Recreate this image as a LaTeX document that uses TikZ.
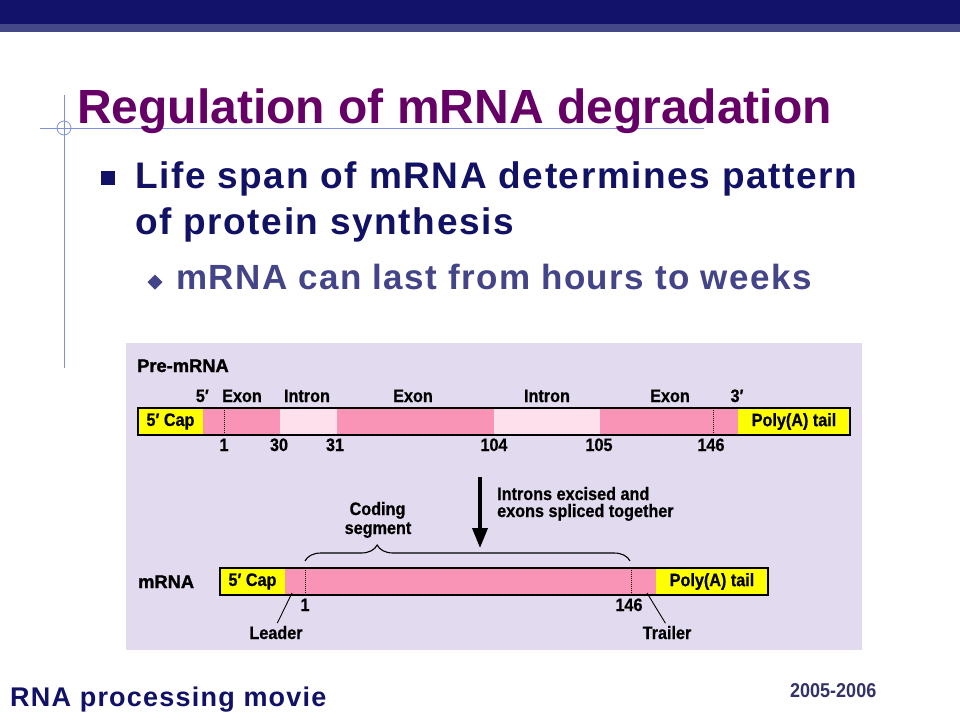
\documentclass[tikz,border=0pt]{standalone}
\usepackage{fontspec}
\setmainfont{Liberation Sans}
\newfontfamily\bodyfont[LetterSpace=4.3]{Liberation Sans}
\newfontfamily\subfont[LetterSpace=4.0]{Liberation Sans}
\newfontfamily\footfont[LetterSpace=4.5]{Liberation Sans}
\newfontfamily\figfont[FakeStretch=0.9,FakeBold=0.6]{Liberation Sans}
\newfontfamily\heavyfont[FakeBold=1.6]{Liberation Sans}
\newfontfamily\yearfont[FakeStretch=0.9]{Liberation Sans}
\usetikzlibrary{arrows.meta,decorations.pathreplacing,positioning}
\definecolor{topband}{HTML}{12126A}
\definecolor{midband}{HTML}{444888}
\definecolor{guide}{HTML}{7F8FE0}
\definecolor{titlecol}{HTML}{660066}
\definecolor{bodycol}{HTML}{111166}
\definecolor{subcol}{HTML}{444488}
\definecolor{yearcol}{HTML}{333366}
\definecolor{panel}{HTML}{E2DAEE}
\definecolor{capyel}{HTML}{FFFF00}
\definecolor{exon}{HTML}{F994B6}
\definecolor{intron}{HTML}{FDE0EC}
\tikzset{
  lbl/.style={inner sep=0pt, font=\figfont\bfseries\fontsize{18}{19}\selectfont},
  heavy/.style={inner sep=0pt, font=\heavyfont\bfseries\fontsize{18.3}{19}\selectfont},
  bar/.style={draw=black, line width=1.3pt},
  cut/.style={densely dotted, line width=1pt},
  guideline/.style={draw=guide, line width=0.8pt},
  bigarrow/.style={line width=3.6pt, -{Triangle[length=20pt,width=15pt]}}
}
\begin{document}
\begin{tikzpicture}[x=1pt,y=-1pt]
  \useasboundingbox (0,0) rectangle (960,720);
  \fill[white] (0,0) rectangle (960,720);

  % slide frame
  \fill[topband] (0,0) rectangle (960,24);
  \fill[midband] (0,24) rectangle (960,32);
  \draw[guideline] (64,95) -- (64,368);
  \draw[guideline] (40,128) -- (704,128);
  \draw[guideline] (64,128) circle (7);

  \node[anchor=base west, inner sep=0pt, text=titlecol,
    font=\bfseries\fontsize{48}{50}\selectfont] (title) at (77,123)
    {Regulation of mRNA degradation};

  \fill[bodycol] (101,171) rectangle (115,185);
  \node[anchor=base west, inner sep=0pt, text=bodycol,
    font=\bodyfont\bfseries\fontsize{37}{40}\selectfont] (life1) at (135,188)
    {Life span of mRNA determines pattern};
  \node[anchor=base west, inner sep=0pt, text=bodycol,
    font=\bodyfont\bfseries\fontsize{37}{40}\selectfont] (life2) at (135,234)
    {of protein synthesis};

  \fill[subcol] (155,274.5) -- (162.5,282) -- (155,289.5) -- (147.5,282) -- cycle;
  \node[anchor=base west, inner sep=0pt, text=subcol,
    font=\subfont\bfseries\fontsize{35}{38}\selectfont] (last) at (176,289)
    {mRNA can last from hours to weeks};

  % figure
  \fill[panel] (126,343) rectangle (862,650);
  \node[heavy, anchor=base west] (pre) at (137,372) {Pre-mRNA};

  \fill[capyel] (138,408) rectangle (203,435);
  \fill[exon] (203,408) rectangle (280,435);
  \fill[intron] (280,408) rectangle (337,435);
  \fill[exon] (337,408) rectangle (494,435);
  \fill[intron] (494,408) rectangle (600,435);
  \fill[exon] (600,408) rectangle (738,435);
  \fill[capyel] (738,408) rectangle (850,435);
  \draw[bar] (138,408) rectangle (850,435);
  \draw[cut] (224,408) -- (224,435);
  \draw[cut] (713,408) -- (713,435);
  \node[lbl] (cap1) at (170.5,421.5) {5′ Cap};
  \node[lbl] (tail1) at (794,421.5) {Poly(A) tail};

  \node[lbl, anchor=base east] (five) at (209,402) {5′};
  \node[lbl, anchor=base] (ex1) at (242,402) {Exon};
  \node[lbl, anchor=base] (in1) at (307,402) {Intron};
  \node[lbl, anchor=base] (ex2) at (413,402) {Exon};
  \node[lbl, anchor=base] (in2) at (547,402) {Intron};
  \node[lbl, anchor=base] (ex3) at (670,402) {Exon};
  \node[lbl, anchor=base] (three) at (737,402) {3′};

  \node[lbl, anchor=base] (n1) at (224,451) {1};
  \node[lbl, anchor=base] (n30) at (279,451) {30};
  \node[lbl, anchor=base] (n31) at (335,451) {31};
  \node[lbl, anchor=base] (n104) at (494,451) {104};
  \node[lbl, anchor=base] (n105) at (599,451) {105};
  \node[lbl, anchor=base] (n146) at (711,451) {146};

  \coordinate (arrtop) at (480,477);
  \coordinate (arrtip) at (480,548);
  \draw[bigarrow] (arrtop) -- (arrtip);
  \node[lbl, anchor=base west] (splice1) at (497,500) {Introns excised and};
  \node[lbl, anchor=base west] (splice2) at (497,517) {exons spliced together};

  \node[lbl, anchor=base] (coding1) at (377.5,515) {Coding};
  \node[lbl, anchor=base] (coding2) at (378,534) {segment};
  \draw[line width=1.1pt, decorate,
    decoration={brace, amplitude=16pt, aspect=0.222}] (305,561) -- (630,561);

  \node[heavy, anchor=base west] (mrna) at (138,588) {mRNA};
  \fill[capyel] (220,568) rectangle (285,595);
  \fill[exon] (285,568) rectangle (656,595);
  \fill[capyel] (656,568) rectangle (768,595);
  \draw[bar] (220,568) rectangle (768,595);
  \draw[cut] (305,568) -- (305,595);
  \draw[cut] (631,568) -- (631,595);
  \node[lbl] (cap2) at (252.5,581.5) {5′ Cap};
  \node[lbl] (tail2) at (712,581.5) {Poly(A) tail};

  \node[lbl, anchor=base] (m1) at (305,611) {1};
  \node[lbl, anchor=base] (m146) at (629,611) {146};

  \coordinate (ldr) at (292,593);
  \coordinate (trl) at (647,593);
  \node[lbl, anchor=base] (leader) at (276,639) {Leader};
  \node[lbl, anchor=base] (trailer) at (667,639) {Trailer};
  \draw[line width=0.9pt, shorten >=3pt] (ldr) -- (leader.north);
  \draw[line width=0.9pt, shorten >=3pt] (trl) -- (trailer.north);

  % footer
  \node[anchor=base west, inner sep=0pt, text=bodycol,
    font=\footfont\bfseries\fontsize{27}{30}\selectfont] (movie) at (10,706)
    {RNA processing movie};
  \node[anchor=base west, inner sep=0pt, text=yearcol,
    font=\yearfont\bfseries\fontsize{20}{22}\selectfont] (year) at (790,697)
    {2005-2006};
\end{tikzpicture}
\end{document}
